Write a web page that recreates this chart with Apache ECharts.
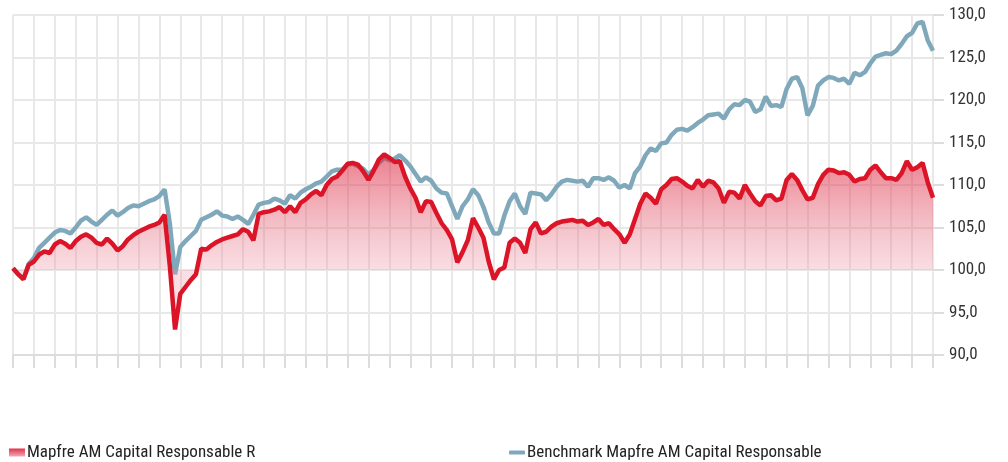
<!DOCTYPE html>
<html>
<head>
<meta charset="utf-8">
<script src="https://cdn.jsdelivr.net/npm/echarts@6/dist/echarts.min.js"></script>
<style>
	html, body { margin: 0; padding: 0; background: #fff; }
	#chart { width: 1008px; height: 462px; }
</style>
</head>
<body>
<div id="chart"></div>
<script>
// values, 4 points per grid column
var fundValues = [
	100.2, 99.5, 98.9, 100.6, 101.0, 101.8, 102.2, 102.0, 103.0, 103.4,
	103.1, 102.6, 103.4, 103.9, 104.2, 103.8, 103.2, 103.0, 103.7, 103.1,
	102.3, 102.8, 103.6, 104.1, 104.5, 104.8, 105.1, 105.3, 105.6, 106.5,
	100.5, 93.0, 97.2, 98.0, 98.8, 99.5, 102.5, 102.4, 102.9, 103.3,
	103.6, 103.8, 104.0, 104.2, 104.8, 104.5, 103.5, 106.6, 106.8, 106.9,
	107.1, 107.4, 106.8, 107.5, 106.8, 107.9, 108.3, 108.9, 109.3, 108.8,
	110.0, 110.7, 111.0, 111.7, 112.5, 112.6, 112.4, 111.6, 110.6, 111.7,
	113.0, 113.6, 113.2, 112.7, 112.8, 111.0, 109.6, 108.5, 106.8, 108.1,
	108.0, 106.7, 105.5, 104.7, 103.6, 100.9, 102.1, 103.5, 106.1, 105.0,
	103.8, 101.0, 98.9, 100.0, 100.3, 103.2, 103.7, 103.2, 102.0, 104.8,
	105.6, 104.3, 104.5, 105.1, 105.5, 105.7, 105.8, 105.9, 105.7, 105.8,
	105.3, 105.6, 106.0, 105.3, 105.5, 104.8, 104.2, 103.2, 104.2, 106.0,
	107.8, 109.0, 108.5, 107.8, 109.5, 110.0, 110.7, 110.8, 110.4, 109.9,
	109.6, 110.6, 109.8, 110.5, 110.3, 109.6, 107.9, 109.2, 109.1, 108.4,
	110.0, 109.0, 108.1, 107.6, 108.7, 108.8, 108.2, 108.4, 110.6, 111.3,
	110.6, 109.4, 108.3, 108.5, 110.1, 111.2, 111.8, 111.7, 111.4, 111.5,
	111.2, 110.4, 110.7, 110.8, 111.8, 112.3, 111.5, 110.8, 110.8, 110.6,
	111.4, 112.8, 111.8, 112.1, 112.6, 110.3, 108.5
];

var benchValues = [
	100.2, 99.5, 99.0, 100.7, 101.4, 102.6, 103.2, 103.8, 104.4, 104.7,
	104.6, 104.3, 105.0, 105.8, 106.2, 105.7, 105.3, 105.9, 106.5, 107.0,
	106.4, 106.8, 107.3, 107.6, 107.5, 107.8, 108.1, 108.3, 108.7, 109.5,
	105.5, 99.5, 102.7, 103.4, 104.0, 104.6, 105.9, 106.2, 106.5, 106.9,
	106.4, 106.3, 106.0, 106.3, 105.9, 105.4, 106.5, 107.7, 107.9, 108.0,
	108.4, 108.2, 107.8, 108.8, 108.4, 109.1, 109.5, 109.8, 110.2, 110.4,
	111.0, 111.6, 111.8, 111.8, 112.4, 112.5, 112.2, 111.9, 111.2, 111.8,
	112.6, 113.2, 112.9, 113.1, 113.5, 112.9, 112.2, 111.3, 110.4, 110.9,
	110.5, 109.6, 109.1, 109.0, 107.5, 106.0, 107.5, 108.3, 109.5, 108.8,
	107.4, 105.6, 104.3, 104.3, 106.4, 108.1, 109.0, 107.5, 106.6, 109.1,
	109.0, 108.9, 108.2, 108.9, 109.8, 110.4, 110.6, 110.5, 110.4, 110.5,
	109.8, 110.8, 110.8, 110.6, 110.9, 110.5, 109.7, 110.0, 109.6, 111.4,
	112.2, 113.5, 114.3, 114.0, 114.9, 115.0, 115.9, 116.5, 116.6, 116.4,
	116.8, 117.3, 117.7, 118.2, 118.3, 118.4, 117.8, 118.9, 119.5, 119.4,
	120.0, 119.8, 118.6, 118.9, 120.4, 119.3, 119.4, 119.2, 121.3, 122.5,
	122.7, 121.4, 118.2, 119.3, 121.7, 122.3, 122.7, 122.6, 122.3, 122.5,
	121.9, 123.2, 122.9, 123.3, 124.3, 125.1, 125.3, 125.5, 125.4, 125.8,
	126.6, 127.5, 127.9, 129.0, 129.2, 127.0, 125.8
];

var fundName = 'Mapfre AM Capital Responsable R';
var benchName = 'Benchmark Mapfre AM Capital Responsable';

var days = [];
for (var i = 0; i < fundValues.length; i++) {
	days.push(i);
}

var labelFont = "'Liberation Sans Narrow', 'Roboto Condensed', 'DejaVu Sans Condensed', sans-serif";
var gridGray = '#e8e8e8';

var chart = echarts.init(document.getElementById('chart'));

function everyFourth(index) {
	return index % 4 === 0;
}

var areaFill = new echarts.graphic.LinearGradient(0, 150, 0, 270, [
	{ offset: 0, color: 'rgba(220, 30, 55, 0.85)' },
	{ offset: 1, color: 'rgba(235, 150, 165, 0.45)' }
], true);

var swatchFill = new echarts.graphic.LinearGradient(0, 0, 0, 1, [
	{ offset: 0, color: '#e0324a' },
	{ offset: 1, color: '#f2aab5' }
]);

chart.setOption({
	animation: false,
	grid: {
		left: 13,
		right: 75,
		top: 15,
		bottom: 107
	},
	legend: [
		{
			left: 9,
			top: 444,
			padding: 0,
			icon: 'rect',
			itemWidth: 16,
			itemHeight: 8,
			selectedMode: false,
			textStyle: { fontFamily: labelFont, fontSize: 17, color: '#222', padding: [0, 0, 0, -3] },
			data: [{ name: fundName, itemStyle: { color: swatchFill } }]
		},
		{
			left: 509,
			top: 444,
			padding: 0,
			icon: 'roundRect',
			itemWidth: 16,
			itemHeight: 4,
			selectedMode: false,
			textStyle: { fontFamily: labelFont, fontSize: 17, color: '#222', padding: [0, 0, 0, -3] },
			data: [{ name: benchName }]
		}
	],
	xAxis: {
		type: 'category',
		data: days,
		boundaryGap: false,
		axisLine: { lineStyle: { color: '#dcdcdc', width: 2 } },
		axisTick: {
			show: true,
			interval: everyFourth,
			length: 13,
			lineStyle: { color: '#dcdcdc', width: 2 }
		},
		axisLabel: { show: false },
		splitLine: {
			show: true,
			interval: everyFourth,
			lineStyle: { color: gridGray, width: 2 }
		}
	},
	yAxis: {
		type: 'value',
		position: 'right',
		min: 90,
		max: 130,
		interval: 5,
		axisLine: { show: false },
		axisTick: {
			show: true,
			length: 11,
			lineStyle: { color: '#dcdcdc', width: 2 }
		},
		axisLabel: {
			margin: 16,
			fontFamily: labelFont,
			fontSize: 17,
			color: '#333',
			formatter: function (v) {
				return v.toFixed(1).replace('.', ',');
			}
		},
		splitLine: { lineStyle: { color: gridGray, width: 2 } }
	},
	series: [
		{
			name: benchName,
			type: 'line',
			data: benchValues,
			showSymbol: false,
			color: '#7fa9bb',
			lineStyle: { color: '#7fa9bb', width: 4.5 },
			z: 2
		},
		{
			name: fundName,
			type: 'line',
			data: fundValues,
			showSymbol: false,
			color: '#dc1428',
			lineStyle: { color: '#dc1428', width: 4.5 },
			areaStyle: { origin: 100, color: areaFill },
			z: 3
		}
	]
});
</script>
</body>
</html>
